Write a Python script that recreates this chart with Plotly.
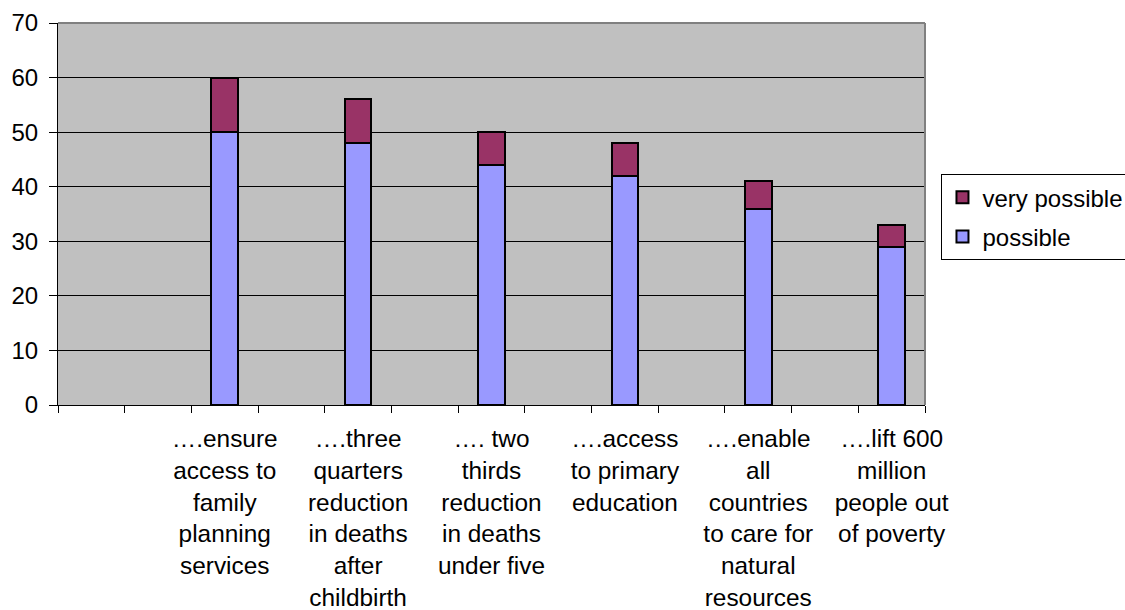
import plotly.graph_objects as go

categories = [
    "….ensure<br>access to<br>family<br>planning<br>services",
    "….three<br>quarters<br>reduction<br>in deaths<br>after<br>childbirth",
    "…. two<br>thirds<br>reduction<br>in deaths<br>under five",
    "….access<br>to primary<br>education",
    "….enable<br>all<br>countries<br>to care for<br>natural<br>resources",
    "….lift 600<br>million<br>people out<br>of poverty",
]
possible = [50, 48, 44, 42, 36, 29]
very_possible = [10, 8, 6, 6, 5, 4]
y_ticks = [0, 10, 20, 30, 40, 50, 60, 70]

n_slots = 13
xpos = [2 * (i + 1) for i in range(len(categories))]

FONT = "Liberation Sans, Arial, sans-serif"

fig = go.Figure()
fig.add_trace(go.Bar(
    x=xpos, y=possible, name="possible", width=0.4,
    legendgroup="p", legendrank=2,
    marker=dict(color="#9999FF", line=dict(color="black", width=2)),
))
fig.add_trace(go.Bar(
    x=xpos, y=very_possible, name="very possible", width=0.4,
    legendgroup="vp", legendrank=1,
    marker=dict(color="#993366", line=dict(color="black", width=2)),
))

fig.update_layout(
    barmode="stack",
    width=1125, height=610,
    margin=dict(l=58, r=200, t=23, b=205, autoexpand=False),
    paper_bgcolor="white",
    plot_bgcolor="#C0C0C0",
    font=dict(family=FONT, size=24.4, color="black"),
    showlegend=True,
    legend=dict(
        x=1.019, y=0.604, xanchor="left", yanchor="top",
        traceorder="grouped", tracegroupgap=5,
        bgcolor="white", bordercolor="black", borderwidth=1,
        font=dict(size=24, family=FONT),
        itemwidth=30,
    ),
    xaxis=dict(
        range=[-0.5, n_slots - 0.5],
        tickvals=xpos, ticktext=categories,
        ticks="", showgrid=False, zeroline=False,
        showline=True, linecolor="black", linewidth=1,
        tickfont=dict(size=24.4, family=FONT),
        ticklabelstandoff=12,
        automargin=False,
        minor=dict(tickvals=[k - 0.5 for k in range(n_slots + 1)],
                   ticks="outside", ticklen=7, tickcolor="black", showgrid=False),
        fixedrange=True,
    ),
    yaxis=dict(
        range=[0, 70], tickvals=y_ticks,
        ticks="outside", ticklen=8, tickcolor="black",
        showgrid=True, gridcolor="black", gridwidth=1,
        zeroline=False, showline=True, linecolor="black", linewidth=1,
        tickfont=dict(size=24, family=FONT),
        ticklabelstandoff=6,
        automargin=False,
        fixedrange=True,
    ),
    shapes=[
        dict(type="line", xref="paper", yref="paper", x0=0, x1=1, y0=1, y1=1,
             line=dict(color="#808080", width=2), layer="above"),
        dict(type="line", xref="paper", yref="paper", x0=1, x1=1, y0=0, y1=1,
             line=dict(color="#808080", width=2), layer="above"),
    ],
)

fig.write_html("out.html", config={"displayModeBar": False},
               post_script="document.body.style.margin='0';")
